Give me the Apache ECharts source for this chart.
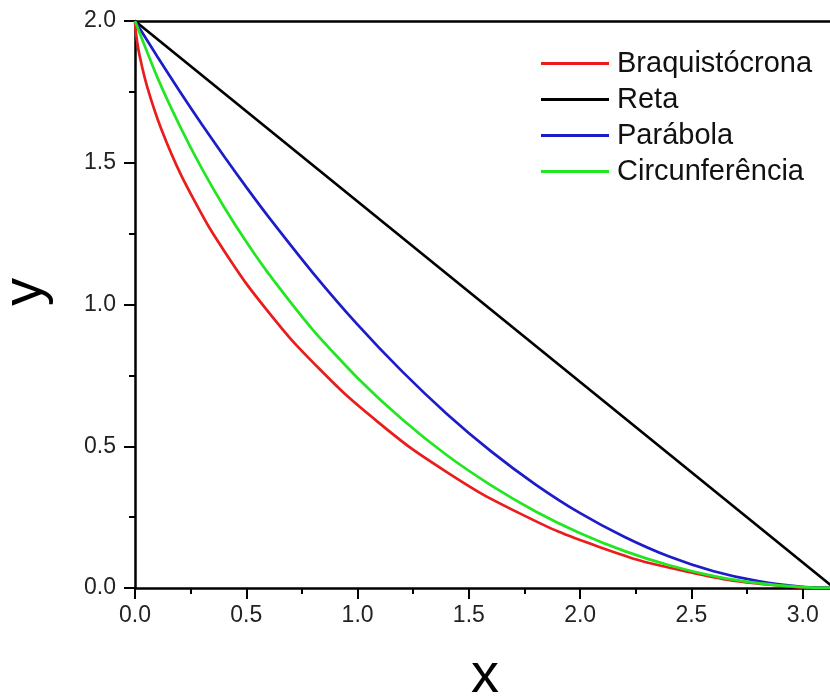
<!DOCTYPE html>
<html>
<head>
<meta charset="utf-8">
<script src="https://cdn.jsdelivr.net/npm/echarts@6/dist/echarts.min.js"></script>
<style>
  html, body { margin: 0; padding: 0; background: #fff; overflow: hidden; }
  /* the plot runs past the right edge of the window, as in the original */
  #chart { width: 917px; height: 697px; }
</style>
</head>
<body>
<div id="chart"></div>
<script>
// Braquistócrona (vermelho)
const xBraq = [0, 0.0045, 0.0206, 0.0558, 0.1167, 0.2088, 0.3364, 0.5025, 0.7083, 0.9537, 1.2368, 1.5543, 1.9015, 2.2726, 2.6608, 2.9585, 3.1416];
const yBraq = [2.000, 1.955, 1.878, 1.765, 1.622, 1.454, 1.268, 1.071, 0.871, 0.677, 0.495, 0.334, 0.199, 0.096, 0.029, 0.004, 0];

// Reta (preto)
const xReta = [0, 3.1416];
const yReta = [2.00, 0];

// Parábola (azul) e Circunferência (verde), mesmos x
const xCurva = [0, 0.1, 0.2, 0.3, 0.4, 0.5, 0.6, 0.8, 1.0, 1.2, 1.4, 1.6, 1.8, 2.0, 2.2, 2.4, 2.6, 2.8, 3.0, 3.1416];
const yParab = [2.000, 1.875, 1.753, 1.636, 1.523, 1.414, 1.309, 1.111, 0.929, 0.764, 0.615, 0.482, 0.365, 0.264, 0.180, 0.111, 0.059, 0.024, 0.004, 0];
const yCirc = [2.000, 1.802, 1.632, 1.480, 1.344, 1.221, 1.109, 0.910, 0.741, 0.595, 0.469, 0.362, 0.270, 0.193, 0.130, 0.080, 0.042, 0.017, 0.003, 0];

const seriesNames = ['Braquistócrona', 'Reta', 'Parábola', 'Circunferência'];
const seriesColors = ['#ea1c1c', '#000000', '#1c1cc8', '#22e622'];

const xTicks = [0, 0.5, 1.0, 1.5, 2.0, 2.5, 3.0];
const yTicks = [0, 0.5, 1.0, 1.5, 2.0];

const font = 'Liberation Sans';

function pairs(xs, ys) {
  return xs.map((x, i) => [x, ys[i]]);
}

const chart = echarts.init(document.getElementById('chart'));

const axisLine = { show: true, lineStyle: { color: '#000', width: 2.5 } };

const option = {
  animation: false,
  grid: { left: 135, right: 0, top: 21, bottom: 109 },
  legend: {
    orient: 'vertical',
    left: 536,
    top: 44,
    itemWidth: 68,
    itemHeight: 3,
    itemGap: 7,
    icon: 'rect',
    textStyle: { fontFamily: font, fontSize: 29, color: '#111', padding: [0, 0, 0, 3] },
    data: seriesNames
  },
  xAxis: [
    {
      type: 'value',
      position: 'bottom',
      min: 0,
      max: 3.5,
      interval: 0.5,
      axisLine: axisLine,
      axisTick: { show: true, length: 11, lineStyle: { color: '#000', width: 2 } },
      minorTick: { show: true, splitNumber: 2, length: 6, lineStyle: { color: '#000', width: 2 } },
      splitLine: { show: false },
      axisLabel: {
        fontFamily: font,
        fontSize: 23,
        color: '#222',
        margin: 16,
        formatter: v => (xTicks.includes(v) ? v.toFixed(1) : '')
      }
    },
    {
      type: 'value',
      position: 'top',
      min: 0,
      max: 3.5,
      axisLine: axisLine,
      axisTick: { show: false },
      axisLabel: { show: false },
      splitLine: { show: false }
    }
  ],
  yAxis: {
    type: 'value',
    min: 0,
    max: 2,
    interval: 0.5,
    axisLine: axisLine,
    axisTick: { show: true, length: 11, lineStyle: { color: '#000', width: 2 } },
    minorTick: { show: true, splitNumber: 2, length: 6, lineStyle: { color: '#000', width: 2 } },
    splitLine: { show: false },
    axisLabel: {
      fontFamily: font,
      fontSize: 23,
      color: '#222',
      margin: 19,
      formatter: v => (yTicks.includes(v) ? v.toFixed(1) : '')
    }
  },
  graphic: [
    {
      type: 'text',
      x: 485,
      y: 677,
      style: { text: 'x', fontFamily: font, fontSize: 56, fill: '#000', align: 'center', verticalAlign: 'middle' }
    },
    {
      type: 'text',
      x: 26,
      y: 292,
      rotation: Math.PI / 2,
      style: { text: 'y', fontFamily: font, fontSize: 56, fill: '#000', align: 'center', verticalAlign: 'middle' }
    }
  ],
  series: [
    [xBraq, yBraq],
    [xReta, yReta],
    [xCurva, yParab],
    [xCurva, yCirc]
  ].map((d, i) => ({
    name: seriesNames[i],
    type: 'line',
    data: pairs(d[0], d[1]),
    showSymbol: false,
    symbol: 'none',
    smooth: 0.2,
    color: seriesColors[i],
    lineStyle: { color: seriesColors[i], width: 2.7 }
  }))
};

chart.setOption(option);
</script>
</body>
</html>
